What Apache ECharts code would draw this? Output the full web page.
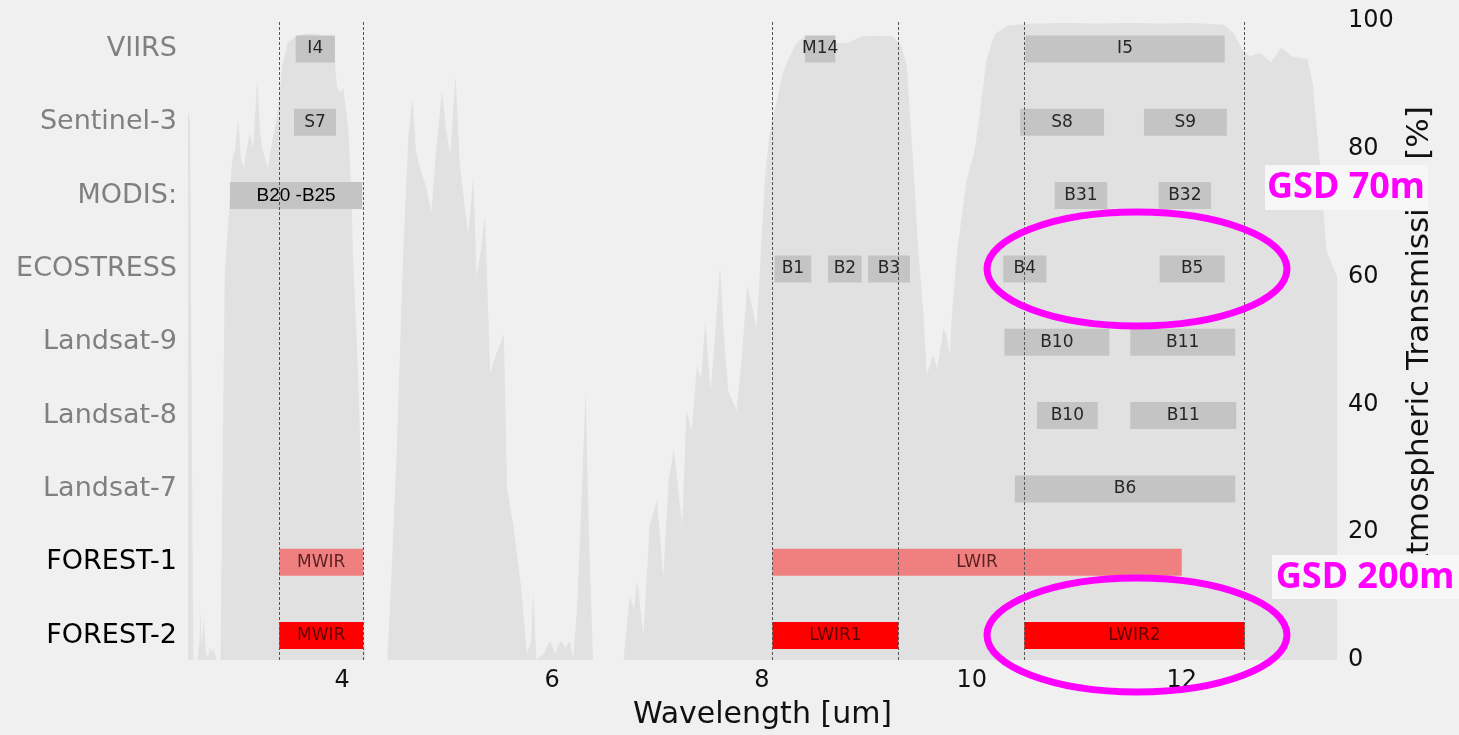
<!DOCTYPE html>
<html>
<head>
<meta charset="utf-8">
<script src="https://cdn.jsdelivr.net/npm/echarts@6/dist/echarts.min.js"></script>
<style>
  html, body { margin: 0; padding: 0; background: #f0f0f0; }
  #chart { width: 1459px; height: 735px; }
</style>
</head>
<body>
<div id="chart"></div>
<script>
// sensors, bottom to top
var rows = ['FOREST-2', 'FOREST-1', 'Landsat-7', 'Landsat-8', 'Landsat-9', 'ECOSTRESS', 'MODIS:', 'Sentinel-3', 'VIIRS'];

// spectral bands (um)
var bandName  = ['I4', 'M14', 'I5', 'S7', 'S8', 'S9', 'B20 -B25', 'B31', 'B32',
                 'B1', 'B2', 'B3', 'B4', 'B5', 'B10', 'B11', 'B10', 'B11', 'B6',
                 'MWIR', 'LWIR', 'MWIR', 'LWIR1', 'LWIR2'];
var bandRow   = ['VIIRS', 'VIIRS', 'VIIRS', 'Sentinel-3', 'Sentinel-3', 'Sentinel-3', 'MODIS:', 'MODIS:', 'MODIS:',
                 'ECOSTRESS', 'ECOSTRESS', 'ECOSTRESS', 'ECOSTRESS', 'ECOSTRESS', 'Landsat-9', 'Landsat-9', 'Landsat-8', 'Landsat-8', 'Landsat-7',
                 'FOREST-1', 'FOREST-1', 'FOREST-2', 'FOREST-2', 'FOREST-2'];
var bandStart = [3.556, 8.41, 10.51, 3.54, 10.46, 11.64, 2.93, 10.79, 11.78,
                 8.12, 8.63, 9.01, 10.3, 11.79, 10.31, 11.51, 10.62, 11.51, 10.41,
                 3.4, 8.1, 3.4, 8.1, 10.5];
var bandEnd   = [3.93, 8.70, 12.41, 3.94, 11.26, 12.43, 4.19, 11.29, 12.28,
                 8.47, 8.95, 9.41, 10.71, 12.41, 11.31, 12.51, 11.20, 12.52, 12.51,
                 4.2, 12.0, 4.2, 9.3, 12.6];

// FOREST band edges
var edgeLines = [3.4, 4.2, 8.1, 9.3, 10.5, 12.6];

// atmospheric transmission curve
var wavelength = [
  2.53, 2.55, 2.565, 2.58, 2.62, 2.64, 2.65, 2.66, 2.68, 2.70,
  2.72, 2.74, 2.76, 2.77, 2.80, 2.84, 2.86, 2.88, 2.92, 2.95,
  2.98, 3.01, 3.03, 3.06, 3.09, 3.12, 3.15, 3.19, 3.22, 3.24,
  3.29, 3.33, 3.38, 3.43, 3.48, 3.55, 3.65, 3.75, 3.85, 3.90,
  3.93, 3.95, 3.98, 4.01, 4.06, 4.09, 4.10, 4.15, 4.19, 4.21,
  4.22, 4.43, 4.46, 4.52, 4.58, 4.63, 4.67, 4.70, 4.74, 4.80,
  4.85, 4.89, 4.95, 4.99, 5.03, 5.08, 5.12, 5.16, 5.20, 5.25,
  5.28, 5.32, 5.36, 5.41, 5.47, 5.54, 5.57, 5.63, 5.70, 5.76,
  5.80, 5.82, 5.85, 5.92, 5.98, 6.03, 6.08, 6.13, 6.17, 6.20,
  6.24, 6.28, 6.32, 6.35, 6.39, 6.68, 6.74, 6.78, 6.81, 6.87,
  6.93, 7.00, 7.06, 7.11, 7.16, 7.24, 7.28, 7.33, 7.38, 7.42,
  7.46, 7.51, 7.55, 7.60, 7.64, 7.68, 7.76, 7.81, 7.86, 7.91,
  7.95, 7.99, 8.03, 8.07, 8.10, 8.15, 8.20, 8.25, 8.33, 8.41,
  8.50, 8.60, 8.72, 8.82, 8.96, 9.10, 9.25, 9.33, 9.38, 9.44,
  9.49, 9.54, 9.57, 9.63, 9.67, 9.73, 9.76, 9.79, 9.81, 9.86,
  9.95, 10.03, 10.08, 10.14, 10.22, 10.35, 10.6, 10.9, 11.2, 11.5,
  11.8, 12.1, 12.4, 12.5, 12.58, 12.65, 12.75, 12.85, 12.95, 13.05,
  13.2, 13.25, 13.32, 13.38, 13.48
];
var transmission = [
  86, 84, 40, 0, 0, 3, 8, 2, 6.7, 1,
  0.5, 2, 1, 2, 0, 0, 30, 60, 70, 78,
  80, 84.6, 79, 77, 80, 82.5, 80, 91, 82, 80,
  77, 81, 85, 93, 96.6, 97.5, 98, 98, 97.5, 96,
  93.5, 89.7, 88.8, 89.5, 82.5, 72, 64, 45, 25, 5,
  0, 0, 10, 33, 63.5, 82, 88, 80, 77, 74,
  70, 79, 89, 83, 79, 91.5, 77.6, 72, 66.5, 75.7,
  60, 64, 69.6, 45, 48, 51, 27, 21, 12, 1,
  3, 10.6, 0, 1, 3, 1, 3, 2, 3, 0,
  8.7, 25, 42, 20, 0, 0, 10, 8, 12.5, 4,
  21, 25, 13, 28, 33, 21, 39, 36, 46, 44,
  53, 42, 50, 61.7, 50, 42, 39, 48, 58.6, 55,
  52, 64, 75.7, 82, 84.8, 88, 92, 94, 96.5, 97.7,
  97, 96.8, 96.5, 96.6, 97.6, 97.7, 97.6, 96, 93, 78,
  64, 54, 44.6, 47.7, 45.6, 51.9, 50.8, 47.7, 54, 64,
  75, 80, 86, 94, 98, 99.3, 99.6, 99.7, 99.6, 99.7,
  99.6, 99.7, 99.4, 98, 95.5, 94.5, 95, 93.5, 95.8, 94.5,
  94, 90, 77, 64, 60
];

var chart = echarts.init(document.getElementById('chart'));

var curve = wavelength.map(function (w, i) { return [w, transmission[i]]; });
var bands = bandName.map(function (n, i) {
  return [bandStart[i], bandEnd[i], rows.indexOf(bandRow[i])];
});

function renderBand(params, api) {
  var i = params.dataIndex;
  var a = api.coord([api.value(0), api.value(2)]);
  var b = api.coord([api.value(1), api.value(2)]);
  var h = api.size([0, 1])[1] * 0.368;
  var row = bandRow[i];
  var fill = row === 'FOREST-2' ? '#ff0000' : (row === 'FOREST-1' ? '#f08080' : '#c4c4c4');
  var ink = row.indexOf('FOREST') === 0 ? 'rgba(40,0,0,0.75)' : '#262626';
  var font = bandName[i] === 'B20 -B25' ? '19px "Liberation Sans"' : '17px "DejaVu Sans"';
  if (bandName[i] === 'B20 -B25') ink = '#000';
  return {
    type: 'group',
    children: [
      { type: 'rect', shape: { x: a[0], y: a[1] - h / 2, width: b[0] - a[0], height: h }, style: { fill: fill } },
      { type: 'text', style: { x: (a[0] + b[0]) / 2, y: a[1], text: bandName[i], font: font, fill: ink,
        align: 'center', verticalAlign: 'middle', textAlign: 'center', textVerticalAlign: 'middle' } }
    ]
  };
}

var axisFont = 'DejaVu Sans';

chart.setOption({
  backgroundColor: '#f0f0f0',
  animation: false,
  grid: [
    { left: 188, right: 122, top: 21, bottom: 72 },
    { left: 188, right: 122, top: 12.3, bottom: 62.8 }
  ],
  xAxis: [
    {
      type: 'value', gridIndex: 0, min: 2.53, max: 13.48, splitNumber: 5,
      axisLine: { show: false }, axisTick: { show: false }, splitLine: { show: false },
      axisLabel: { showMinLabel: false, showMaxLabel: false, fontSize: 24, color: '#111', fontFamily: axisFont, margin: 9 },
      name: 'Wavelength [um]', nameLocation: 'middle', nameGap: 40,
      nameTextStyle: { fontSize: 30, color: '#111', fontFamily: axisFont }
    },
    { type: 'value', gridIndex: 1, min: 2.53, max: 13.48, show: false }
  ],
  yAxis: [
    {
      type: 'value', gridIndex: 0, position: 'right', min: 0, max: 100, interval: 20,
      axisLine: { show: false }, axisTick: { show: false }, splitLine: { show: false },
      axisLabel: { fontSize: 24, color: '#111', fontFamily: axisFont, margin: 11, padding: [8, 0, 0, 0] },
      name: 'Atmospheric Transmission [%]', nameLocation: 'middle', nameRotate: 90, nameGap: 62,
      nameTextStyle: { fontSize: 31, color: '#111', fontFamily: axisFont }
    },
    {
      type: 'category', gridIndex: 1, data: rows,
      axisLine: { show: false }, axisTick: { show: false }, splitLine: { show: false },
      axisLabel: {
        fontSize: 27, fontFamily: axisFont, margin: 11,
        color: function (value) { return value.indexOf('FOREST') === 0 ? '#000' : '#808080'; }
      }
    }
  ],
  series: [
    {
      type: 'line', xAxisIndex: 0, yAxisIndex: 0, data: curve, showSymbol: false, silent: true,
      lineStyle: { width: 0, color: '#e1e1e1' }, areaStyle: { color: '#e1e1e1', opacity: 1 }, z: 1,
      markLine: {
        silent: true, symbol: ['none', 'none'], label: { show: false },
        lineStyle: { type: [3, 2], color: '#555', width: 1 },
        data: edgeLines.map(function (v) { return { xAxis: v }; })
      }
    },
    {
      type: 'custom', xAxisIndex: 1, yAxisIndex: 1, data: bands, renderItem: renderBand,
      encode: { x: [0, 1], y: 2 }, silent: true, z: 2
    }
  ],
  graphic: [
    { type: 'ellipse', z: 100, shape: { cx: 1137, cy: 269, rx: 150, ry: 57 }, style: { fill: 'none', stroke: '#ff00ff', lineWidth: 7 } },
    { type: 'ellipse', z: 100, shape: { cx: 1137, cy: 635, rx: 150, ry: 57 }, style: { fill: 'none', stroke: '#ff00ff', lineWidth: 7 } },
    { type: 'rect', z: 100, shape: { x: 1265, y: 165, width: 163, height: 45 }, style: { fill: '#f7f7f7' } },
    { type: 'text', z: 101, x: 1346, y: 188, style: { text: 'GSD 70m', font: 'bold 36px "Noto Sans"', fill: '#ff00ff',
      textAlign: 'center', textVerticalAlign: 'middle', align: 'center', verticalAlign: 'middle' } },
    { type: 'rect', z: 100, shape: { x: 1272, y: 555, width: 187, height: 44 }, style: { fill: '#f7f7f7' } },
    { type: 'text', z: 101, x: 1365, y: 578, style: { text: 'GSD 200m', font: 'bold 36px "Noto Sans"', fill: '#ff00ff',
      textAlign: 'center', textVerticalAlign: 'middle', align: 'center', verticalAlign: 'middle' } }
  ]
});
</script>
</body>
</html>
